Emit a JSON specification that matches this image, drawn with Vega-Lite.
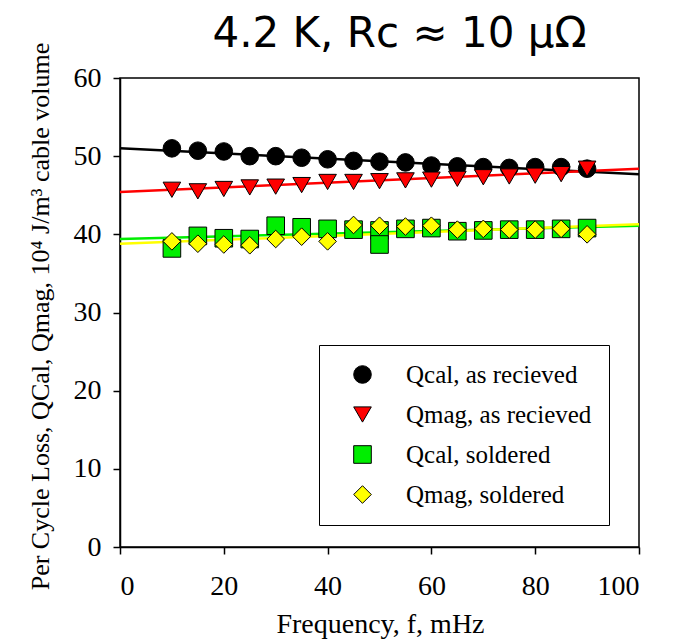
{
  "$schema": "https://vega.github.io/schema/vega-lite/v6.json",
  "autosize": {"type": "none"},
  "padding": {"left": 120, "top": 78, "right": 57, "bottom": 92},
  "width": 519,
  "height": 469,
  "background": "white",
  "title": {
    "text": "4.2 K, Rc ≈ 10 μΩ",
    "font": "DejaVu Sans",
    "fontSize": 42,
    "fontWeight": "normal",
    "color": "black",
    "anchor": "middle",
    "baseline": "alphabetic",
    "offset": 24,
    "dx": 20,
    "dy": 71
  },
  "datasets": {
    "fits": [
      {"f": 0, "q": 51.0, "series": "Qcal, as recieved"},
      {"f": 100, "q": 47.7, "series": "Qcal, as recieved"},
      {"f": 0, "q": 45.4, "series": "Qmag, as recieved"},
      {"f": 100, "q": 48.4, "series": "Qmag, as recieved"},
      {"f": 0, "q": 39.4, "series": "Qcal, soldered"},
      {"f": 100, "q": 41.1, "series": "Qcal, soldered"},
      {"f": 0, "q": 38.8, "series": "Qmag, soldered"},
      {"f": 100, "q": 41.3, "series": "Qmag, soldered"}
    ],
    "points": [
      {"f": 10, "q": 51.0, "series": "Qcal, as recieved"},
      {"f": 15, "q": 50.7, "series": "Qcal, as recieved"},
      {"f": 20, "q": 50.6, "series": "Qcal, as recieved"},
      {"f": 25, "q": 50.0, "series": "Qcal, as recieved"},
      {"f": 30, "q": 50.0, "series": "Qcal, as recieved"},
      {"f": 35, "q": 49.8, "series": "Qcal, as recieved"},
      {"f": 40, "q": 49.6, "series": "Qcal, as recieved"},
      {"f": 45, "q": 49.4, "series": "Qcal, as recieved"},
      {"f": 50, "q": 49.3, "series": "Qcal, as recieved"},
      {"f": 55, "q": 49.2, "series": "Qcal, as recieved"},
      {"f": 60, "q": 48.8, "series": "Qcal, as recieved"},
      {"f": 65, "q": 48.7, "series": "Qcal, as recieved"},
      {"f": 70, "q": 48.6, "series": "Qcal, as recieved"},
      {"f": 75, "q": 48.5, "series": "Qcal, as recieved"},
      {"f": 80, "q": 48.6, "series": "Qcal, as recieved"},
      {"f": 85, "q": 48.6, "series": "Qcal, as recieved"},
      {"f": 90, "q": 48.4, "series": "Qcal, as recieved"},
      {"f": 10, "q": 45.7, "series": "Qmag, as recieved"},
      {"f": 15, "q": 45.5, "series": "Qmag, as recieved"},
      {"f": 20, "q": 45.8, "series": "Qmag, as recieved"},
      {"f": 25, "q": 46.0, "series": "Qmag, as recieved"},
      {"f": 30, "q": 46.1, "series": "Qmag, as recieved"},
      {"f": 35, "q": 46.3, "series": "Qmag, as recieved"},
      {"f": 40, "q": 46.7, "series": "Qmag, as recieved"},
      {"f": 45, "q": 46.7, "series": "Qmag, as recieved"},
      {"f": 50, "q": 46.8, "series": "Qmag, as recieved"},
      {"f": 55, "q": 46.9, "series": "Qmag, as recieved"},
      {"f": 60, "q": 47.0, "series": "Qmag, as recieved"},
      {"f": 65, "q": 47.1, "series": "Qmag, as recieved"},
      {"f": 70, "q": 47.3, "series": "Qmag, as recieved"},
      {"f": 75, "q": 47.4, "series": "Qmag, as recieved"},
      {"f": 80, "q": 47.5, "series": "Qmag, as recieved"},
      {"f": 85, "q": 47.7, "series": "Qmag, as recieved"},
      {"f": 90, "q": 48.4, "series": "Qmag, as recieved"},
      {"f": 10, "q": 38.2, "series": "Qcal, soldered"},
      {"f": 15, "q": 39.8, "series": "Qcal, soldered"},
      {"f": 20, "q": 39.5, "series": "Qcal, soldered"},
      {"f": 25, "q": 39.4, "series": "Qcal, soldered"},
      {"f": 30, "q": 41.1, "series": "Qcal, soldered"},
      {"f": 35, "q": 40.9, "series": "Qcal, soldered"},
      {"f": 40, "q": 40.7, "series": "Qcal, soldered"},
      {"f": 45, "q": 40.6, "series": "Qcal, soldered"},
      {"f": 50, "q": 40.5, "series": "Qcal, soldered"},
      {"f": 50, "q": 38.7, "series": "Qcal, soldered"},
      {"f": 55, "q": 40.7, "series": "Qcal, soldered"},
      {"f": 60, "q": 40.8, "series": "Qcal, soldered"},
      {"f": 65, "q": 40.4, "series": "Qcal, soldered"},
      {"f": 70, "q": 40.5, "series": "Qcal, soldered"},
      {"f": 75, "q": 40.6, "series": "Qcal, soldered"},
      {"f": 80, "q": 40.6, "series": "Qcal, soldered"},
      {"f": 85, "q": 40.7, "series": "Qcal, soldered"},
      {"f": 90, "q": 40.8, "series": "Qcal, soldered"},
      {"f": 10, "q": 39.1, "series": "Qmag, soldered"},
      {"f": 15, "q": 38.8, "series": "Qmag, soldered"},
      {"f": 20, "q": 38.7, "series": "Qmag, soldered"},
      {"f": 25, "q": 38.6, "series": "Qmag, soldered"},
      {"f": 30, "q": 39.4, "series": "Qmag, soldered"},
      {"f": 35, "q": 39.7, "series": "Qmag, soldered"},
      {"f": 40, "q": 39.1, "series": "Qmag, soldered"},
      {"f": 45, "q": 41.2, "series": "Qmag, soldered"},
      {"f": 50, "q": 41.1, "series": "Qmag, soldered"},
      {"f": 55, "q": 41.0, "series": "Qmag, soldered"},
      {"f": 60, "q": 41.1, "series": "Qmag, soldered"},
      {"f": 65, "q": 40.6, "series": "Qmag, soldered"},
      {"f": 70, "q": 40.7, "series": "Qmag, soldered"},
      {"f": 75, "q": 40.6, "series": "Qmag, soldered"},
      {"f": 80, "q": 40.6, "series": "Qmag, soldered"},
      {"f": 85, "q": 40.7, "series": "Qmag, soldered"},
      {"f": 90, "q": 40.0, "series": "Qmag, soldered"}
    ]
  },
  "config": {
    "view": {"stroke": "black", "strokeWidth": 1.5},
    "axis": {
      "grid": false,
      "domainColor": "black",
      "domainWidth": 1.5,
      "tickColor": "black",
      "tickWidth": 1.5,
      "tickSize": 7,
      "labelFont": "Liberation Serif",
      "labelFontSize": 28,
      "labelColor": "black",
      "titleFont": "Liberation Serif",
      "titleFontSize": 27,
      "titleFontWeight": "normal",
      "titleColor": "black"
    }
  },
  "layer": [
    {
      "data": {"name": "fits"},
      "transform": [{"filter": "datum.series === 'Qcal, as recieved'"}],
      "mark": {"type": "line", "strokeWidth": 2.5, "color": "#000000"},
      "encoding": {
        "x": {"field": "f", "type": "quantitative"},
        "y": {"field": "q", "type": "quantitative"}
      }
    },
    {
      "data": {"name": "fits"},
      "transform": [{"filter": "datum.series === 'Qmag, as recieved'"}],
      "mark": {"type": "line", "strokeWidth": 2.5, "color": "#ff0000"},
      "encoding": {
        "x": {"field": "f", "type": "quantitative"},
        "y": {"field": "q", "type": "quantitative"}
      }
    },
    {
      "data": {"name": "fits"},
      "transform": [{"filter": "datum.series === 'Qcal, soldered'"}],
      "mark": {"type": "line", "strokeWidth": 2.5, "color": "#00ee00"},
      "encoding": {
        "x": {"field": "f", "type": "quantitative"},
        "y": {"field": "q", "type": "quantitative"}
      }
    },
    {
      "data": {"name": "fits"},
      "transform": [{"filter": "datum.series === 'Qmag, soldered'"}],
      "mark": {"type": "line", "strokeWidth": 2.5, "color": "#ffff00"},
      "encoding": {
        "x": {"field": "f", "type": "quantitative"},
        "y": {"field": "q", "type": "quantitative"}
      }
    },
    {
      "data": {"name": "points"},
      "mark": {"type": "point", "filled": true, "stroke": "black", "strokeWidth": 1, "opacity": 1},
      "encoding": {
        "x": {
          "field": "f",
          "type": "quantitative",
          "scale": {"domain": [0, 100], "nice": false},
          "axis": {
            "values": [0, 20, 40, 60, 80, 100],
            "labelBaseline": "alphabetic",
            "labelPadding": 40,
            "title": "Frequency, f, mHz",
            "titleFontSize": 28,
            "titleBaseline": "alphabetic",
            "titleY": 85,
            "titleX": 260
          }
        },
        "y": {
          "field": "q",
          "type": "quantitative",
          "scale": {"domain": [0, 60], "nice": false},
          "axis": {
            "values": [0, 10, 20, 30, 40, 50, 60],
            "labelPadding": 12,
            "title": "Per Cycle Loss, QCal, Qmag, 10⁴ J/m³ cable volume",
            "titleFontSize": 26,
            "titleBaseline": "alphabetic",
            "titleX": -72,
            "titleY": 238
          }
        },
        "fill": {
          "field": "series",
          "type": "nominal",
          "scale": {
            "domain": ["Qcal, as recieved", "Qmag, as recieved", "Qcal, soldered", "Qmag, soldered"],
            "range": ["#000000", "#ff0000", "#00ee00", "#ffff00"]
          },
          "legend": {
            "title": null,
            "orient": "none",
            "legendX": 199,
            "legendY": 267,
            "fillColor": "white",
            "strokeColor": "black",
            "padding": 17,
            "symbolOffset": 14,
            "labelOffset": 31,
            "rowPadding": 14,
            "labelFont": "Liberation Serif",
            "labelFontSize": 25,
            "labelColor": "black",
            "labelLimit": 400,
            "symbolStrokeColor": "black",
            "symbolStrokeWidth": 1
          }
        },
        "shape": {
          "field": "series",
          "type": "nominal",
          "scale": {
            "domain": ["Qcal, as recieved", "Qmag, as recieved", "Qcal, soldered", "Qmag, soldered"],
            "range": ["circle", "triangle-down", "square", "diamond"]
          }
        },
        "size": {
          "field": "series",
          "type": "nominal",
          "scale": {
            "domain": ["Qcal, as recieved", "Qmag, as recieved", "Qcal, soldered", "Qmag, soldered"],
            "range": [310, 310, 200, 390]
          }
        }
      }
    }
  ]
}
